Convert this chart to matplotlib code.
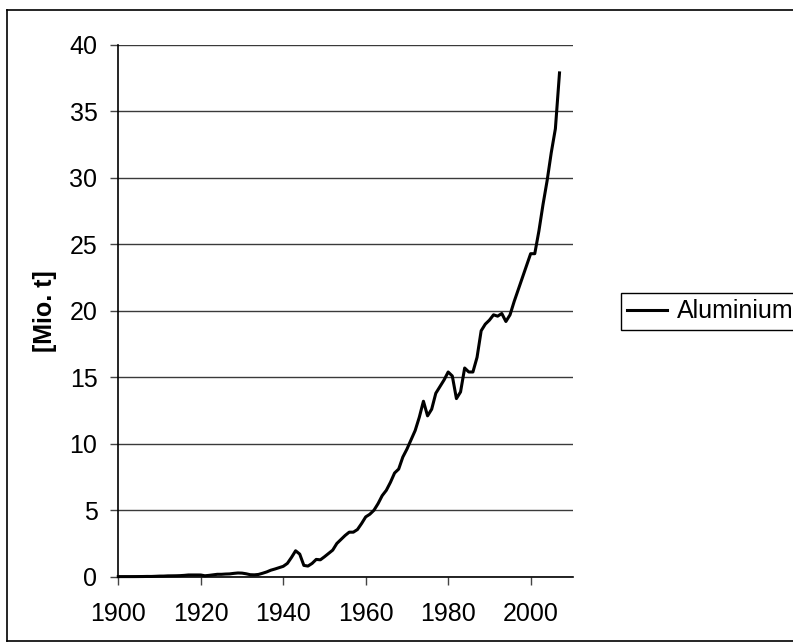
import numpy as np
import matplotlib.pyplot as plt
from matplotlib.lines import Line2D

plt.rcParams['font.family'] = ['Liberation Sans', 'DejaVu Sans']

# world primary aluminium production, Mio. t
years = list(range(1900, 2008))
production = [
    0.007, 0.0075, 0.008, 0.008, 0.009, 0.0115, 0.014, 0.02, 0.018, 0.03,
    0.044, 0.046, 0.062, 0.065, 0.07, 0.08, 0.1, 0.13, 0.13, 0.13,
    0.128, 0.07, 0.1, 0.14, 0.18, 0.18, 0.2, 0.21, 0.25, 0.28,
    0.27, 0.22, 0.15, 0.14, 0.17, 0.26, 0.36, 0.49, 0.58, 0.68,
    0.78, 1.0, 1.45, 1.95, 1.7, 0.85, 0.8, 1.0, 1.3, 1.27,
    1.5, 1.75, 2.0, 2.5, 2.8, 3.1, 3.35, 3.35, 3.55, 4.0,
    4.5, 4.7, 5.0, 5.5, 6.1, 6.5, 7.1, 7.8, 8.1, 9.0,
    9.6, 10.3, 11.0, 12.0, 13.2, 12.1, 12.6, 13.8, 14.3, 14.8,
    15.4, 15.1, 13.4, 13.9, 15.7, 15.4, 15.4, 16.5, 18.5, 19.0,
    19.3, 19.7, 19.6, 19.8, 19.2, 19.7, 20.7, 21.6, 22.5, 23.4,
    24.3, 24.3, 26.0, 28.0, 29.8, 31.9, 33.7, 37.9,
]
series_name = "Aluminium"
xticks = [1900, 1920, 1940, 1960, 1980, 2000]
yticks = [0, 5, 10, 15, 20, 25, 30, 35, 40]

W, H = 793, 644
fig = plt.figure(figsize=(W / 100, H / 100), dpi=100)
ax = fig.add_axes([118.3 / W, 1 - 576.7 / H, (572.7 - 118.3) / W, (576.7 - 45) / H])

ax.plot(years, production, color='black', lw=2.2, solid_joinstyle='round', clip_on=False)

ax.set_xlim(1900, 2010.2)
ax.set_ylim(0, 40)
ax.set_xticks(xticks)
ax.set_yticks(yticks)
ax.yaxis.grid(True, color='#3a3a3a', lw=1)
ax.set_axisbelow(True)
for s in ['top', 'right']:
    ax.spines[s].set_visible(False)
ax.spines['left'].set_linewidth(1.2)
ax.spines['bottom'].set_linewidth(1.2)
ax.tick_params(axis='both', direction='out', length=6, width=1, labelsize=18, color='#444444')
ax.tick_params(axis='x', pad=12)
ax.tick_params(axis='y', pad=9)

fig.text(45 / W, 1 - 311 / H, '[Mio. t]', rotation=90, ha='center', va='center',
         fontsize=18, fontweight='bold')

handle = Line2D([], [], color='black', lw=2.2)
leg = fig.legend([handle], [series_name], loc='center left',
                 bbox_to_anchor=(620.7 / W, 1 - 311.3 / H), fontsize=18,
                 fancybox=False, edgecolor='black', framealpha=1,
                 handlelength=1.6, handletextpad=0.4, borderpad=0.25, borderaxespad=0)
leg.get_frame().set_linewidth(1)

# outer chart frame
fig.add_artist(Line2D([7 / W, 7 / W], [1 - 10 / H, 1 - 641 / H], color='black', lw=1.2))
fig.add_artist(Line2D([7 / W, 1], [1 - 10 / H, 1 - 10 / H], color='black', lw=1.2))
fig.add_artist(Line2D([7 / W, 1], [1 - 641 / H, 1 - 641 / H], color='black', lw=1.2))

fig.savefig('out.png', dpi=100)
